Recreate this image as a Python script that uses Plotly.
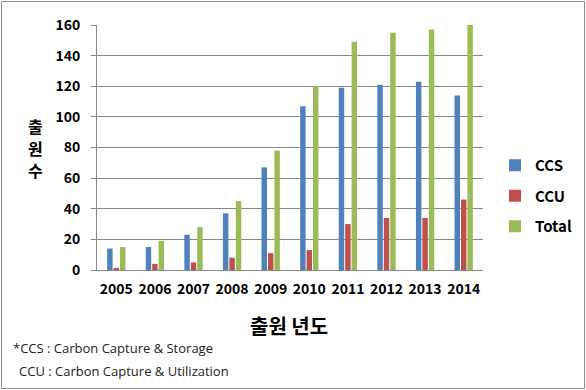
import plotly.graph_objects as go

years = ["2005", "2006", "2007", "2008", "2009", "2010", "2011", "2012", "2013", "2014"]
ccs = [14, 15, 23, 37, 67, 107, 119, 121, 123, 114]
ccu = [1, 4, 5, 8, 11, 13, 30, 34, 34, 46]
total = [15, 19, 28, 45, 78, 120, 149, 155, 157, 160]
y_ticks = [0, 20, 40, 60, 80, 100, 120, 140, 160]

W, H = 586, 390
PL, PR, PT, PB = 97, 483, 25, 270  # plot area in pixels


def fx(x):
    return x / W


def fy(y):
    return (H - y) / H


FONT = "Noto Sans CJK KR"

fig = go.Figure()
for name, vals, col, g in [("CCS", ccs, "#4F81BD", "a"), ("CCU", ccu, "#C0504D", "b"), ("Total", total, "#9BBB59", "c")]:
    fig.add_trace(go.Bar(x=years, y=vals, name=name, marker=dict(color=col, line=dict(width=0)), legendgroup=g))

fig.update_layout(
    width=W, height=H,
    margin=dict(l=0, r=0, t=0, b=0, autoexpand=False),
    paper_bgcolor="white", plot_bgcolor="white",
    font=dict(family=FONT, color="black"),
    barmode="group", bargap=0.5, bargroupgap=0.15,
    showlegend=True,
    legend=dict(x=fx(495), y=fy(149), xanchor="left", yanchor="top",
                font=dict(size=15, weight="bold", family=FONT), tracegroupgap=8,
                bgcolor="rgba(0,0,0,0)"),
    xaxis=dict(domain=[fx(PL), fx(PR)], showline=True, linecolor="#868686", linewidth=1, ticks="",
               showgrid=False, tickfont=dict(size=14, weight="bold", family=FONT), ticklabelstandoff=6),
    yaxis=dict(domain=[fy(PB), fy(PT)], range=[0, 160], tickvals=y_ticks, showgrid=True,
               gridcolor="#868686", gridwidth=1, showline=True, linecolor="#868686", linewidth=1,
               ticks="outside", ticklen=5, tickcolor="#868686",
               tickfont=dict(size=14, weight="bold", family=FONT), ticklabelstandoff=8, zeroline=False),
)

for ch, yc in [("출", 126), ("원", 148), ("수", 170)]:
    fig.add_annotation(text=ch, xref="paper", yref="paper", x=fx(35), y=fy(yc),
                       showarrow=False, font=dict(size=16, weight="bold", family=FONT),
                       xanchor="center", yanchor="middle")
fig.add_annotation(text="출원 년도", xref="paper", yref="paper", x=fx(289), y=fy(325),
                   showarrow=False, font=dict(size=20, weight="bold", family=FONT),
                   xanchor="center", yanchor="middle")
fig.add_annotation(text="*CCS : Carbon Capture & Storage", xref="paper", yref="paper", x=fx(11), y=fy(348),
                   showarrow=False, font=dict(size=13, family="Open Sans", color="#222"),
                   xanchor="left", yanchor="middle")
fig.add_annotation(text="CCU : Carbon Capture & Utilization", xref="paper", yref="paper", x=fx(17), y=fy(371),
                   showarrow=False, font=dict(size=13, family="Open Sans", color="#222"),
                   xanchor="left", yanchor="middle")
fig.add_shape(type="rect", xref="paper", yref="paper", x0=fx(1.5), x1=fx(584.5), y0=fy(1.5), y1=fy(388.5),
              line=dict(color="#8c8c8c", width=1))

fig.write_html("out.html", config={"displayModeBar": False},
               post_script="document.body.style.margin='0';document.body.style.padding='0';")
